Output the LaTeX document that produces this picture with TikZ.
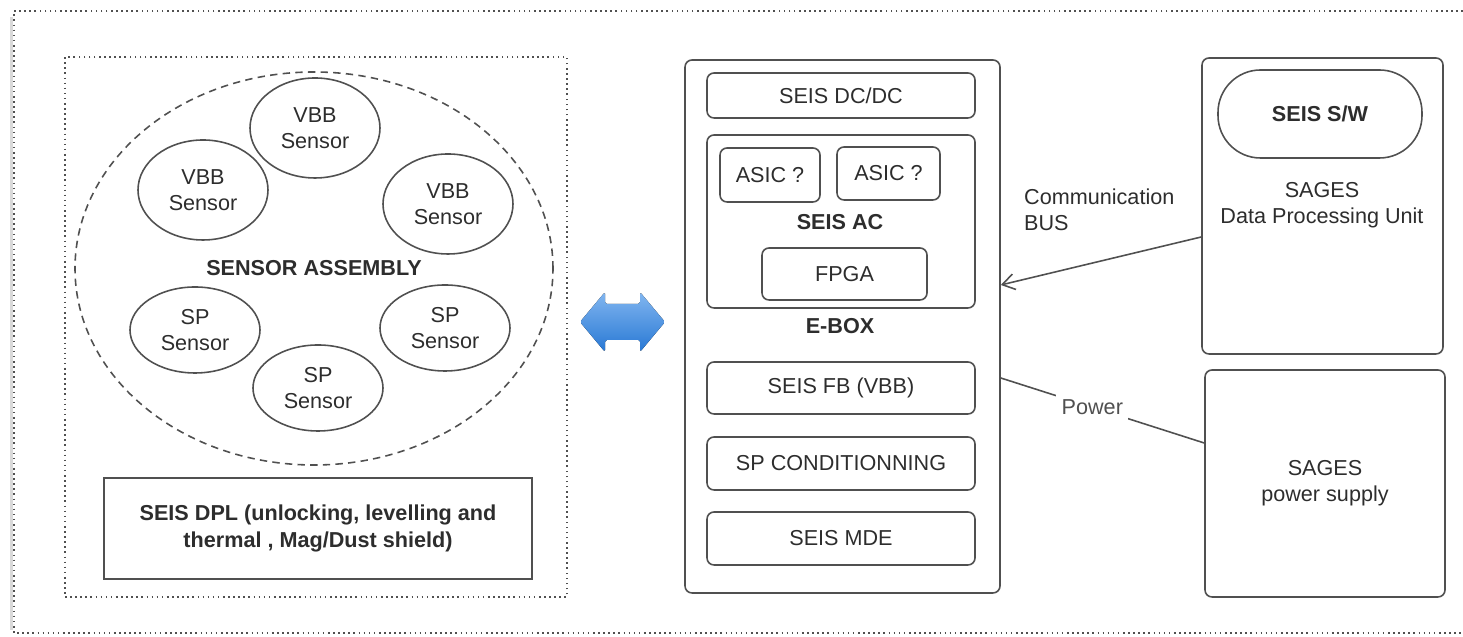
\documentclass[tikz,border=0pt]{standalone}
\usepackage{fontspec}
\setmainfont{Liberation Sans}
\usepackage{tikz}
\usetikzlibrary{arrows.meta, positioning, shapes.geometric}
\definecolor{linegray}{RGB}{80, 80, 80}
\definecolor{textgray}{RGB}{45, 45, 45}
\definecolor{linklt}{RGB}{130, 182, 240}
\definecolor{linkdk}{RGB}{40, 120, 212}

\begin{document}
\begin{tikzpicture}[
    font=\fontsize{12.3}{15}\selectfont, text=textgray,
    frame/.style={rectangle, draw=linegray, line width=0.9pt, dotted},
    sensor/.style={ellipse, draw=linegray, line width=0.9pt, minimum width=2.6cm, minimum height=2cm, align=center, inner sep=0pt},
    unit/.style={rectangle, rounded corners=4pt, draw=linegray, line width=0.9pt, minimum width=5.36cm, minimum height=1.04cm, align=center},
    tag/.style={font=\fontsize{12.3}{15}\selectfont\bfseries},
    >={Straight Barb[length=7pt, width=9pt]}
  ]

  \useasboundingbox (0,0) rectangle (29.26,12.74);

  % outer frame, open on the right
  \fill[gray!30] (0.20,12.40) rectangle (0.26,0.14);
  \draw[linegray, line width=0.9pt, dotted] (29.26,12.52) -- (0.28,12.52) -- (0.28,0.08) -- (29.26,0.08);

  % sensor side
  \node[frame, minimum width=10.04cm, minimum height=10.8cm] (deploy) at (6.32,6.20) {};
  \node[ellipse, draw=linegray, line width=0.9pt, dash pattern=on 4.2pt off 3pt, minimum width=9.56cm, minimum height=7.86cm, tag] (assembly) at (6.28,7.37) {SENSOR ASSEMBLY};

  \foreach \n/\x/\y in {1/6.30/10.18, 2/4.06/8.94, 3/8.96/8.66} {
    \node[sensor] (vbb\n) at (\x,\y) {VBB\\Sensor};
  }
  \foreach \n/\x/\y in {1/3.90/6.14, 2/6.36/4.98, 3/8.90/6.18} {
    \node[sensor, minimum height=1.72cm] (sp\n) at (\x,\y) {SP\\Sensor};
  }

  \node[rectangle, draw=linegray, line width=0.9pt, minimum width=8.56cm, minimum height=2.02cm, align=center, tag] (dpl) at (6.36,2.17) {SEIS DPL (unlocking, levelling and\\thermal , Mag/Dust shield)};

  % link between the two sides
  \fill[top color=linklt, bottom color=linkdk, rounded corners=1pt] (11.60,6.30) -- (12.10,6.90) -- (12.10,6.66) -- (12.80,6.66) -- (12.80,6.90) -- (13.30,6.30) -- (12.80,5.70) -- (12.80,5.94) -- (12.10,5.94) -- (12.10,5.70) -- cycle;

  % E-BOX
  \node[unit, minimum width=6.30cm, minimum height=10.66cm] (ebox) at (16.85,6.21) {};
  \node[tag] (eboxlbl) at (16.80,6.22) {E-BOX};

  \foreach \n/\y/\h/\t in {dcdc/10.83/0.90/{SEIS DC/DC}, fb/4.98/1.04/{SEIS FB (VBB)}, spc/3.47/1.06/{SP CONDITIONNING}, mde/1.97/1.06/{SEIS MDE}} {
    \node[unit, minimum height=\h cm] (\n) at (16.82,\y) {\t};
  }

  \node[unit, minimum height=3.46cm] (ac) at (16.82,8.31) {};
  \node[tag] (aclbl) at (16.80,8.30) {SEIS AC};
  \node[unit, minimum width=2.00cm, minimum height=1.08cm] (asic1) at (15.40,9.24) {ASIC ?};
  \node[unit, minimum width=2.06cm, minimum height=1.06cm] (asic2) at (17.77,9.27) {ASIC ?};
  \node[unit, minimum width=3.30cm] (fpga) at (16.89,7.26) {FPGA};

  % SAGES side
  \node[unit, minimum width=4.82cm, minimum height=5.92cm] (dpu) at (26.45,8.62) {};
  \node[unit, rounded corners=0.85cm, minimum width=4.08cm, minimum height=1.76cm, tag] (sw) at (26.40,10.46) {SEIS S/W};
  \node[align=center] (dpulbl) at (26.44,8.64) {SAGES\\Data Processing Unit};
  \node[unit, minimum width=4.80cm, minimum height=4.54cm] (psu) at (26.50,3.07) {SAGES\\power supply};

  \draw[->, linegray, line width=0.9pt] (dpu.west |- 0,8.00) -- (ebox.east |- 0,7.04);
  \node[anchor=west, align=left] (buslbl) at (20.36,8.54) {Communication\\BUS};
  \draw[linegray, line width=0.9pt] (ebox.east |- 0,5.18) -- node[pos=0.45, fill=white, inner sep=3pt] (pwrlbl) {Power} (psu.west |- 0,3.88);

\end{tikzpicture}
\end{document}
